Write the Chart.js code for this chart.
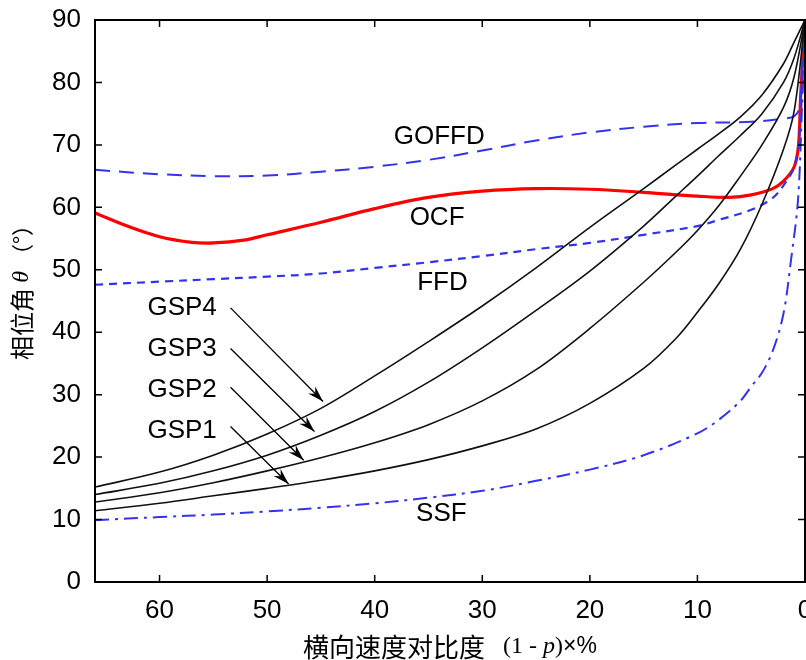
<!DOCTYPE html>
<html>
<head>
<meta charset="utf-8">
<script src="https://cdn.jsdelivr.net/npm/chart.js@4.4.1/dist/chart.umd.min.js"></script>
<style>
  body { margin: 0; background: #fff; }
  #grafico { display: block; }
</style>
</head>
<body>
<canvas id="grafico" width="806" height="660"></canvas>
<script>
// eixo x: (1 - p) em %, invertido (66 -> 0)
const xGsp  = [66, 60, 55, 50, 45, 40, 35, 30, 25, 20, 15, 12, 10, 8, 6, 4, 2, 1, 0];
const gsp4  = [15.2, 17.6, 20.3, 23.7, 27.8, 33.0, 38.5, 44.2, 50.3, 56.8, 63.0, 66.8, 69.3, 71.8, 74.5, 78.0, 83.0, 86.5, 90];
const gsp3  = [14.0, 15.8, 17.8, 20.3, 23.5, 27.3, 32.0, 37.5, 43.5, 49.8, 57.0, 61.8, 65.0, 68.3, 71.5, 75.0, 80.0, 84.0, 90];
const gsp2  = [12.8, 14.3, 15.9, 17.8, 19.9, 22.3, 25.2, 29.0, 34.0, 40.6, 48.0, 52.8, 56.3, 60.3, 65.0, 70.0, 76.0, 81.0, 90];
const gsp1  = [11.4, 12.6, 13.8, 15.0, 16.3, 17.8, 19.6, 21.8, 24.5, 28.6, 34.2, 39.0, 43.2, 47.8, 53.3, 60.5, 69.3, 75.5, 90];

const xGoffd = [66, 60, 55, 50, 45, 40, 35, 30, 25, 20, 15, 10, 5, 2, 1, 0.5, 0.3, 0];
const goffd  = [66.0, 65.3, 65.0, 65.1, 65.7, 66.5, 67.6, 69.1, 70.7, 72.0, 72.9, 73.5, 73.7, 74.2, 74.6, 76.0, 82.0, 90];

const xOcf = [66, 63, 60, 57, 55, 52, 50, 45, 40, 35, 30, 25, 20, 15, 10, 7, 5, 3, 2, 1, 0.6, 0.4, 0];
const ocf  = [59.1, 57.0, 55.3, 54.4, 54.3, 54.8, 55.6, 57.6, 59.8, 61.6, 62.6, 63.0, 62.9, 62.4, 61.8, 61.6, 62.0, 63.0, 64.2, 66.5, 70.0, 78.0, 90];

const xFfd = [66, 60, 55, 50, 45, 40, 35, 30, 25, 20, 15, 10, 8, 5, 3, 2, 1, 0.5, 0];
const ffd  = [47.6, 48.1, 48.5, 48.9, 49.4, 50.3, 51.2, 52.2, 53.3, 54.3, 55.6, 57.0, 58.0, 59.6, 61.5, 63.5, 66.5, 72.0, 90];

const xSsf = [66, 60, 55, 50, 45, 40, 35, 30, 25, 20, 15, 10, 8, 6, 5, 4, 3, 2, 1.3, 0.65, 0.3, 0];
const ssf  = [9.9, 10.4, 10.8, 11.3, 11.9, 12.6, 13.5, 14.6, 16.2, 18.0, 20.3, 23.8, 26.0, 29.0, 31.3, 33.5, 37.0, 43.0, 51.6, 61.2, 75.0, 88.0];

// rótulos das curvas (posição em valores dos eixos)
const rotuloTexto = ['GOFFD', 'OCF', 'FFD', 'SSF', 'GSP4', 'GSP3', 'GSP2', 'GSP1'];
const rotuloX     = [34.0, 34.2, 33.7, 33.8, 57.9, 57.9, 57.9, 57.9];
const rotuloY     = [71.3, 58.3, 47.9, 10.9, 43.9, 37.3, 30.8, 24.2];

// setas GSP: início e ponta
const setaDeX  = [53.4, 53.4, 53.4, 53.4];
const setaDeY  = [43.9, 37.4, 31.2, 24.9];
const setaAteX = [44.8, 45.6, 46.6, 48.0];
const setaAteY = [28.9, 24.1, 19.5, 15.7];

const tituloX = ['横向速度对比度', '(1 - ', 'p', ')', '×%'];
const tituloY = ['相位角 ', 'θ', ' （°）'];

const azul = '#3333ee';

function pontos(xs, ys) {
  return xs.map((v, i) => ({ x: v, y: ys[i] }));
}

function serie(label, xs, ys, cor, largura, tracejado) {
  return {
    label: label,
    data: pontos(xs, ys),
    borderColor: cor,
    borderWidth: largura,
    borderDash: tracejado || [],
    pointRadius: 0,
    fill: false,
    tension: 0.35
  };
}

const decoracao = {
  id: 'decoracao',
  afterDatasetsDraw(chart) {
    const ctx = chart.ctx;
    const a = chart.chartArea;
    const sx = chart.scales.x;
    const sy = chart.scales.y;
    ctx.save();
    ctx.strokeStyle = '#000';
    ctx.fillStyle = '#000';

    // moldura
    ctx.lineWidth = 2;
    ctx.strokeRect(a.left, a.top, a.right - a.left, a.bottom - a.top);

    // marcas para dentro
    ctx.lineWidth = 1.5;
    ctx.beginPath();
    sx.ticks.forEach(t => {
      const px = sx.getPixelForValue(t.value);
      ctx.moveTo(px, a.bottom); ctx.lineTo(px, a.bottom - 7);
      ctx.moveTo(px, a.top); ctx.lineTo(px, a.top + 7);
    });
    sy.ticks.forEach(t => {
      const py = sy.getPixelForValue(t.value);
      ctx.moveTo(a.left, py); ctx.lineTo(a.left + 7, py);
      ctx.moveTo(a.right, py); ctx.lineTo(a.right - 7, py);
    });
    ctx.stroke();

    // setas
    ctx.lineWidth = 1.3;
    for (let i = 0; i < setaDeX.length; i++) {
      const x0 = sx.getPixelForValue(setaDeX[i]);
      const y0 = sy.getPixelForValue(setaDeY[i]);
      const x1 = sx.getPixelForValue(setaAteX[i]);
      const y1 = sy.getPixelForValue(setaAteY[i]);
      const ang = Math.atan2(y1 - y0, x1 - x0);
      ctx.beginPath();
      ctx.moveTo(x0, y0);
      ctx.lineTo(x1, y1);
      ctx.stroke();
      const L = 17, w = 0.3;
      ctx.beginPath();
      ctx.moveTo(x1, y1);
      ctx.lineTo(x1 - L * Math.cos(ang - w), y1 - L * Math.sin(ang - w));
      ctx.lineTo(x1 - L * 0.65 * Math.cos(ang), y1 - L * 0.65 * Math.sin(ang));
      ctx.lineTo(x1 - L * Math.cos(ang + w), y1 - L * Math.sin(ang + w));
      ctx.closePath();
      ctx.fill();
    }

    // rótulos
    ctx.font = '26px "Liberation Sans", Arial, sans-serif';
    ctx.textAlign = 'center';
    ctx.textBaseline = 'middle';
    rotuloTexto.forEach((txt, i) => {
      ctx.fillText(txt, sx.getPixelForValue(rotuloX[i]), sy.getPixelForValue(rotuloY[i]));
    });
    ctx.restore();
  },
  afterDraw(chart) {
    const ctx = chart.ctx;
    const a = chart.chartArea;
    ctx.save();
    ctx.fillStyle = '#000';
    ctx.textBaseline = 'middle';
    ctx.textAlign = 'left';

    // título do eixo x
    const fx = ['26px "Noto Sans CJK SC", sans-serif', '24px "Liberation Serif", serif',
      'italic 24px "Liberation Serif", serif', '24px "Liberation Serif", serif',
      '23px "Liberation Sans", Arial, sans-serif'];
    const gap = [18, 0, 0, 0, 0];
    let total = 0;
    tituloX.forEach((s, i) => { ctx.font = fx[i]; total += ctx.measureText(s).width + gap[i]; });
    let cx = (a.left + a.right) / 2 - total / 2;
    tituloX.forEach((s, i) => {
      ctx.font = fx[i];
      ctx.fillText(s, cx, 647);
      cx += ctx.measureText(s).width + gap[i];
    });

    // título do eixo y
    const fy = ['24px "Noto Sans CJK SC", sans-serif', 'italic 24px "Liberation Serif", serif',
      '22px "Noto Sans CJK SC", sans-serif'];
    total = 0;
    tituloY.forEach((s, i) => { ctx.font = fy[i]; total += ctx.measureText(s).width; });
    ctx.translate(22, 287);
    ctx.rotate(-Math.PI / 2);
    let cy = -total / 2;
    tituloY.forEach((s, i) => {
      ctx.font = fy[i];
      ctx.fillText(s, cy, 0);
      cy += ctx.measureText(s).width;
    });
    ctx.restore();
  }
};

new Chart(document.getElementById('grafico').getContext('2d'), {
  type: 'line',
  data: {
    datasets: [
      serie('GSP1', xGsp, gsp1, '#111', 1.6),
      serie('GSP2', xGsp, gsp2, '#111', 1.6),
      serie('GSP3', xGsp, gsp3, '#111', 1.6),
      serie('GSP4', xGsp, gsp4, '#111', 1.6),
      serie('SSF', xSsf, ssf, azul, 2, [14, 6, 3, 6]),
      serie('FFD', xFfd, ffd, azul, 2.2, [8, 6]),
      serie('GOFFD', xGoffd, goffd, azul, 2, [15, 9]),
      serie('OCF', xOcf, ocf, '#ff0000', 3.2)
    ]
  },
  options: {
    responsive: false,
    animation: false,
    layout: { padding: { top: 20, right: 1, left: 0, bottom: 0 } },
    plugins: {
      legend: { display: false },
      tooltip: { enabled: false }
    },
    scales: {
      x: {
        type: 'linear',
        reverse: true,
        min: 0,
        max: 66,
        grid: { display: false, drawTicks: false },
        border: { display: false },
        ticks: {
          stepSize: 10,
          includeBounds: false,
          padding: 13,
          color: '#000',
          font: { family: '"Liberation Sans", Arial, sans-serif', size: 26 }
        },
        afterFit(scale) {
          scale.height = 78;
          scale.paddingLeft = 0;
          scale.paddingRight = 0;
        }
      },
      y: {
        min: 0,
        max: 90,
        grid: { display: false, drawTicks: false },
        border: { display: false },
        ticks: {
          stepSize: 10,
          padding: 14,
          color: '#000',
          font: { family: '"Liberation Sans", Arial, sans-serif', size: 26 }
        },
        afterFit(scale) {
          scale.width = 95;
          scale.paddingTop = 0;
          scale.paddingBottom = 0;
        }
      }
    }
  },
  plugins: [decoracao]
});
</script>
</body>
</html>
